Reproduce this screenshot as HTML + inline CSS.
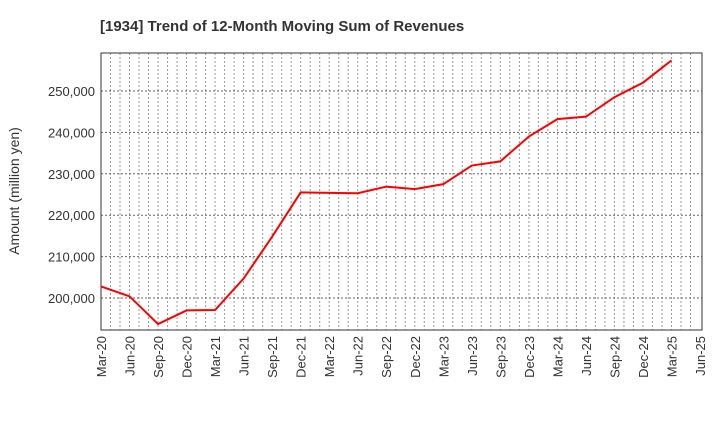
<!DOCTYPE html>
<html><head><meta charset="utf-8"><style>
body{margin:0;background:#fff;font-family:"Liberation Sans",sans-serif}
</style></head><body>
<svg id="c" width="720" height="440" xmlns="http://www.w3.org/2000/svg"></svg>
<script>
const categories=["Mar-20","Jun-20","Sep-20","Dec-20","Mar-21","Jun-21","Sep-21","Dec-21","Mar-22","Jun-22","Sep-22","Dec-22","Mar-23","Jun-23","Sep-23","Dec-23","Mar-24","Jun-24","Sep-24","Dec-24","Mar-25","Jun-25"];
const revenues=[202800,200400,193700,197000,197100,204700,214800,225500,225400,225300,226900,226300,227500,232000,233000,239000,243200,243800,248500,252000,257400];
const yTicks=[200000,210000,220000,230000,240000,250000];
const L=101,R=702,T=53,B=330,yMin=192270,yMax=259180;
const svg=document.getElementById('c');const NS="http://www.w3.org/2000/svg";
function x(i){return L+i*(R-L-2)/(categories.length-1);}
function y(v){return B-(v-yMin)/(yMax-yMin)*(B-T);}
function mk(t,a,p){const e=document.createElementNS(NS,t);for(const k in a)e.setAttribute(k,a[k]);(p||svg).appendChild(e);return e;}
let t=mk('text',{x:100,y:31,'font-size':15,'font-weight':'bold',fill:'#333'});t.textContent="[1934]  Trend of 12-Month Moving Sum of Revenues";

const g=mk('g',{});
for(let m=1;m<(categories.length-1)*3;m++){const xx=L+m*(R-L-2)/((categories.length-1)*3);mk('line',{x1:xx,x2:xx,y1:T,y2:B,stroke:'#999','stroke-dasharray':'2,2','stroke-width':1},g);}
yTicks.forEach(v=>{mk('line',{x1:L,x2:R,y1:y(v),y2:y(v),stroke:'#666','stroke-dasharray':'2,2'},g);
const l=mk('text',{x:L-6,y:y(v)+5,'font-size':13,'text-anchor':'end',fill:'#333'});l.textContent=v.toLocaleString('en-US');
});
categories.forEach((c,i)=>{const l=mk('text',{transform:`translate(${x(i)+5},${B+6}) rotate(-90)`,'font-size':13,'text-anchor':'end',fill:'#333'});l.textContent=c;
});
const f=mk('rect',{x:L,y:T,width:R-L,height:B-T,fill:'none',stroke:'#333'});
const yt=mk('text',{transform:'translate(19,191) rotate(-90)','font-size':14,'text-anchor':'middle',fill:'#333'});yt.textContent="Amount (million yen)";

const ln=mk('polyline',{points:revenues.map((v,i)=>x(i)+','+y(v)).join(' '),fill:'none',stroke:'#f00','stroke-width':2});

</script>
</body></html>
